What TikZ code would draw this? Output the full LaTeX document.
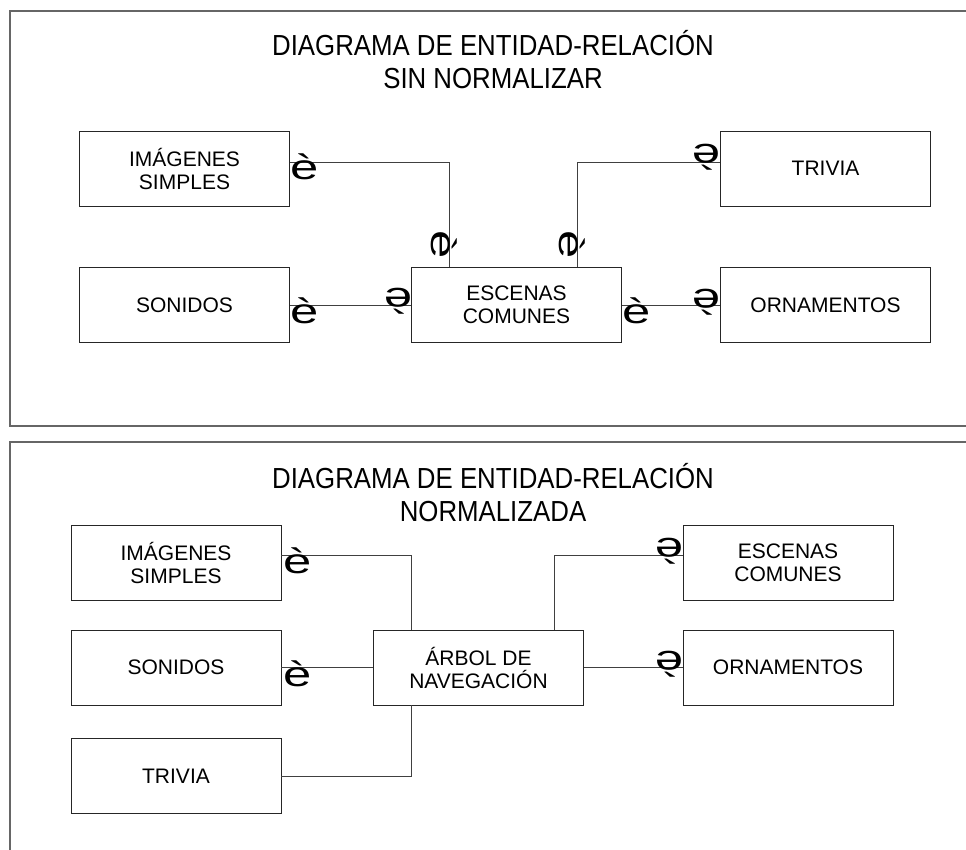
\documentclass[tikz,border=0pt]{standalone}
\usepackage{fontspec}
\setmainfont{Liberation Sans}
\newfontfamily\titlefont[FakeStretch=0.89]{Liberation Sans}
\newfontfamily\crowfont[FakeStretch=1.45]{Liberation Sans}

\begin{document}
\begin{tikzpicture}[
                    x=1pt,
                    y=-1pt,
                    semithick
                ]
                \tikzstyle{entity}=[draw=black!85,line width=0.9pt,minimum width=210pt,minimum height=75pt,
                                    align=center,inner sep=0pt,font=\fontsize{21}{23}\selectfont]
                \tikzstyle{title}=[align=center,inner sep=0pt,font=\titlefont\fontsize{29}{33}\selectfont]
                \tikzstyle{crow}=[inner sep=0pt,outer sep=0pt,anchor=base west,font=\crowfont\fontsize{35}{35}\selectfont]
                \tikzstyle{link}=[draw=black!75,line width=0.9pt]
                \tikzstyle{frame}=[draw=black!60,line width=1.4pt]

                \clip (0,0) rectangle (966,850);

                % marcos
                \draw[frame] (990,11) -- (10,11) -- (10,426) -- (990,426);
                \draw[frame] (990,442) -- (10,442) -- (10,870);

                % sin normalizar
                \node[title]  (titA) at (493,60)    {DIAGRAMA DE ENTIDAD-RELACIÓN\\SIN NORMALIZAR};
                \node[entity] (imgA) at (184.5,168.5) {IMÁGENES\\SIMPLES};
                \node[entity] (sonA) at (184.5,305) {SONIDOS};
                \node[entity] (scA)  at (516.5,305) {ESCENAS\\COMUNES};
                \node[entity] (triA) at (825.5,168.5) {TRIVIA};
                \node[entity] (ornA) at (825.5,305) {ORNAMENTOS};

                \draw[link] ([yshift=6.5pt]imgA.east) -| ([xshift=-67.5pt]scA.north);
                \draw[link] ([yshift=6.5pt]triA.west) -| ([xshift=60.5pt]scA.north);
                \draw[link] (sonA) -- (scA);
                \draw[link] (scA) -- (ornA);

                \node[crow]              (c1) at (290,180) {è};
                \node[crow]              (c2) at (290,323) {è};
                \node[crow]              (c3) at (622,323) {è};
                \node[crow,rotate=180]   (c4) at (412,288) {è};
                \node[crow,rotate=180]   (c5) at (720,145) {è};
                \node[crow,rotate=180]   (c6) at (720,289) {è};
                \node[crow,rotate=-90]   (c7) at (431,231) {è};
                \node[crow,rotate=-90]   (c8) at (559,231) {è};

                % normalizada
                \node[title]  (titB) at (493,493)   {DIAGRAMA DE ENTIDAD-RELACIÓN\\NORMALIZADA};
                \node[entity] (imgB) at (176,562.5) {IMÁGENES\\SIMPLES};
                \node[entity] (sonB) at (176,667.5) {SONIDOS};
                \node[entity] (trvB) at (176,776)   {TRIVIA};
                \node[entity] (arbB) at (478.5,667.5) {ÁRBOL DE\\NAVEGACIÓN};
                \node[entity] (escB) at (788,562.5) {ESCENAS\\COMUNES};
                \node[entity] (ornB) at (788,667.5) {ORNAMENTOS};

                \draw[link] ([yshift=7.5pt]imgB.east) -| ([xshift=-67.5pt]arbB.north);
                \draw[link] ([yshift=7.5pt]escB.west) -| ([xshift=75.5pt]arbB.north);
                \draw[link] (sonB) -- (arbB);
                \draw[link] (arbB) -- (ornB);
                \draw[link] (trvB) -| ([xshift=-67.5pt]arbB.south);

                \node[crow]              (c9)  at (283,573) {è};
                \node[crow]              (c10) at (283,686) {è};
                \node[crow,rotate=180]   (c11) at (683,538) {è};
                \node[crow,rotate=180]   (c12) at (683,651) {è};
            \end{tikzpicture}
\end{document}
